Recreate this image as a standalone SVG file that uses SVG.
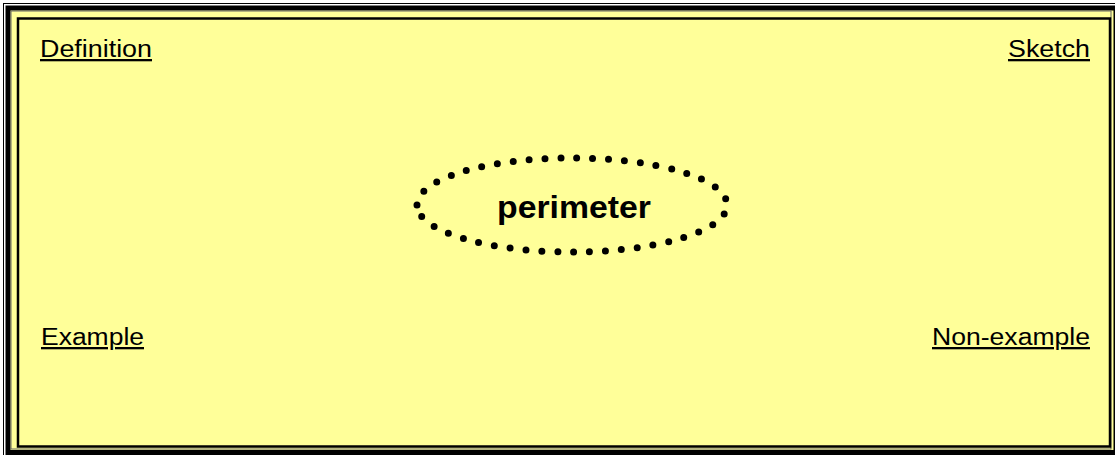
<svg xmlns="http://www.w3.org/2000/svg" width="1115" height="455" viewBox="0 0 1115 455">
  <style>
    .lbl { font-family: "Liberation Sans", Arial, sans-serif; font-size: 23px; fill: #000; text-decoration: underline; }
    .title { font-family: "Liberation Sans", Arial, sans-serif; font-size: 32px; font-weight: bold; fill: #000; }
  </style>
  <rect x="0" y="0" width="1115" height="455" fill="#ffffff"/>
  <g id="frame">
    <rect x="3.5" y="3.5" width="1130" height="470" fill="none" stroke="#000" stroke-width="1"/>
    <rect x="8" y="8" width="1108" height="444.5" fill="#FFFF99" stroke="#000" stroke-width="5"/>
    <rect x="11" y="11" width="1100" height="438" fill="none" stroke="#666" stroke-width="1"/>
    <rect x="18" y="18.5" width="1092" height="428" fill="#FFFF99" stroke="#000" stroke-width="2.5"/>
  </g>
  <g id="connectors"></g>
  <g id="definition"><text class="lbl" x="40" y="57" textLength="112" lengthAdjust="spacingAndGlyphs">Definition</text></g>
  <g id="sketch"><text class="lbl" x="1008" y="57" textLength="82" lengthAdjust="spacingAndGlyphs">Sketch</text></g>
  <g id="example"><text class="lbl" x="41" y="345" textLength="103" lengthAdjust="spacingAndGlyphs">Example</text></g>
  <g id="nonexample"><text class="lbl" x="932" y="345" textLength="158" lengthAdjust="spacingAndGlyphs">Non-example</text></g>
  <g id="perimeter">
    <path d="M 417 205 A 155 47 0 1 1 727 205 A 155 47 0 1 1 417 205" fill="none" stroke="#000" stroke-width="7" stroke-linecap="round" stroke-dasharray="0 15.9"/>
    <text class="title" x="497" y="218" textLength="154" lengthAdjust="spacingAndGlyphs">perimeter</text>
  </g>
</svg>
